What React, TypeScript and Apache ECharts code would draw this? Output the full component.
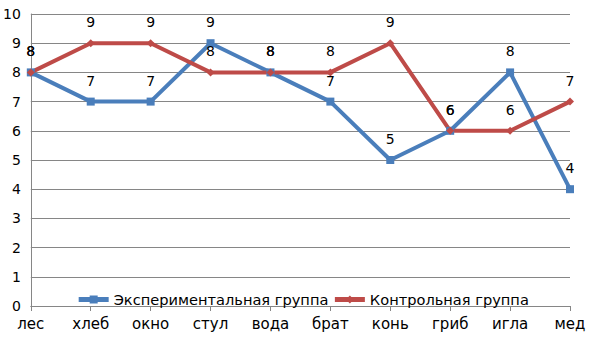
import React, { useEffect, useRef } from "react";
import * as echarts from "echarts";

const categories = ["лес", "хлеб", "окно", "стул", "вода", "брат", "конь", "гриб", "игла", "мед"];
const experimental = [8, 7, 7, 9, 8, 7, 5, 6, 8, 4];
const control = [8, 9, 9, 8, 8, 8, 9, 6, 6, 7];
const seriesNames = ["Экспериментальная группа", "Контрольная группа"];

export default function App() {
  const ref = useRef<HTMLDivElement>(null);
  useEffect(() => {
    if (!ref.current) return;
    const chart = echarts.init(ref.current, undefined, { renderer: "svg" });
    const font = "DejaVu Sans";
    chart.setOption({
      animation: false,
      textStyle: { fontFamily: font },
      grid: { left: 30, right: 35, top: 14, bottom: 34, containLabel: false },
      legend: {
        bottom: 28,
        left: "center",
        itemWidth: 30,
        itemHeight: 10,
        itemGap: 4,
        lineStyle: { width: 5 },
        textStyle: { fontFamily: font, fontSize: 14.6, color: "#000" },
        data: seriesNames,
      },
      xAxis: {
        type: "category",
        data: categories,
        boundaryGap: false,
        axisLine: { lineStyle: { color: "#868686", width: 1 } },
        axisTick: { show: true, length: 5, lineStyle: { color: "#868686" } },
        axisLabel: { color: "#000", fontSize: 15, fontFamily: font, margin: 10 },
      },
      yAxis: {
        type: "value",
        min: 0,
        max: 10,
        interval: 1,
        axisLine: { show: true, lineStyle: { color: "#868686", width: 1 } },
        axisTick: { show: false },
        splitLine: { lineStyle: { color: "#868686", width: 1 } },
        axisLabel: { color: "#000", fontSize: 14, fontFamily: font, margin: 10 },
      },
      series: [
        {
          name: seriesNames[0],
          type: "line",
          data: experimental,
          symbol: "rect",
          symbolSize: 8,
          itemStyle: { color: "#4A7EBB" },
          lineStyle: { color: "#4A7EBB", width: 4 },
          label: { show: true, position: "top", distance: 10, color: "#000", fontSize: 14, fontFamily: font },
        },
        {
          name: seriesNames[1],
          type: "line",
          data: control,
          symbol: "diamond",
          symbolSize: 8,
          itemStyle: { color: "#BE4B48" },
          lineStyle: { color: "#BE4B48", width: 4 },
          label: { show: true, position: "top", distance: 10, color: "#000", fontSize: 14, fontFamily: font },
        },
      ],
    });
    return () => chart.dispose();
  }, []);
  return <div ref={ref} style={{ width: 605, height: 340, position: "absolute", left: 0, top: 0 }} />;
}
